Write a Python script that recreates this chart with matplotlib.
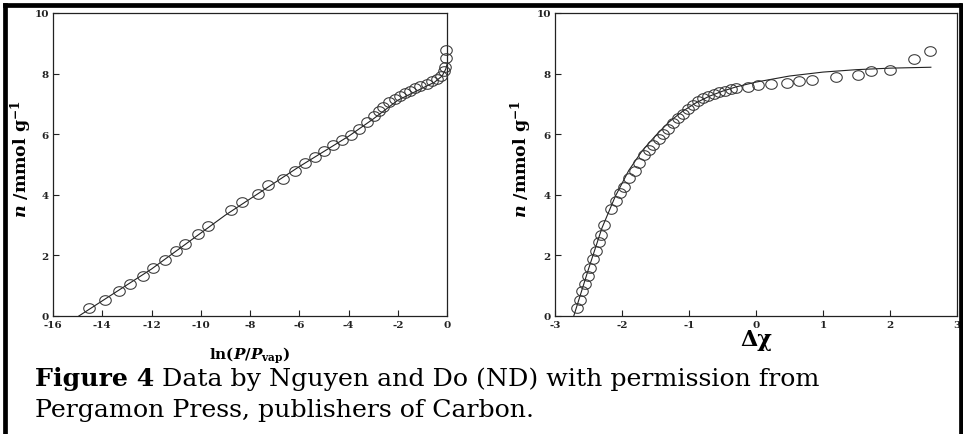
import matplotlib
matplotlib.use("Agg")
import matplotlib.pyplot as plt
from matplotlib.lines import Line2D
from matplotlib.path import Path
import numpy as np

plt.rcParams['font.family'] = ['DejaVu Serif', 'Liberation Serif']
plt.rcParams['mathtext.fontset'] = 'custom'
plt.rcParams['mathtext.rm'] = 'DejaVu Serif:bold'
plt.rcParams['mathtext.it'] = 'DejaVu Serif:bold:italic'
plt.rcParams['mathtext.bf'] = 'DejaVu Serif:bold'

# ---- Left panel data: n vs ln(P/Pvap) ----
left_x = [-14.55, -13.90, -13.33, -12.88, -12.34, -11.93, -11.46, -11.01, -10.64, -10.10,
          -9.69, -8.77, -8.31, -7.66, -7.25, -6.64, -6.17, -5.75, -5.36, -4.98,
          -4.61, -4.27, -3.91, -3.59, -3.25, -2.98, -2.78, -2.58, -2.37, -2.10,
          -1.90, -1.69, -1.49, -1.29, -1.08, -0.81, -0.61, -0.41, -0.24, -0.14,
          -0.07, -0.04, -0.04]
left_y = [0.25, 0.52, 0.81, 1.07, 1.32, 1.58, 1.84, 2.14, 2.38, 2.69,
          2.96, 3.51, 3.76, 4.03, 4.31, 4.53, 4.80, 5.04, 5.24, 5.44,
          5.63, 5.81, 5.98, 6.18, 6.40, 6.59, 6.75, 6.91, 7.05, 7.16,
          7.25, 7.35, 7.44, 7.52, 7.58, 7.66, 7.74, 7.82, 7.93, 8.07,
          8.21, 8.51, 8.79]
left_fit_x = [-14.95, -12.0, -9.0, -6.0, -4.0, -3.0, -2.0, -1.0, -0.5, -0.2, -0.05, 0.0]
left_fit_y = [0.0, 1.55, 3.33, 4.93, 5.93, 6.50, 7.12, 7.52, 7.72, 7.92, 8.15, 8.30]

# ---- Right panel data: n vs delta chi ----
right_x = [-2.67, -2.63, -2.59, -2.55, -2.51, -2.48, -2.44, -2.39, -2.35, -2.32,
           -2.27, -2.17, -2.09, -2.03, -1.97, -1.89, -1.81, -1.74, -1.67, -1.60,
           -1.53, -1.45, -1.39, -1.31, -1.24, -1.16, -1.09, -1.01, -0.94, -0.87,
           -0.79, -0.71, -0.63, -0.55, -0.47, -0.38, -0.30, -0.12, 0.03, 0.23,
           0.47, 0.64, 0.84, 1.19, 1.52, 1.71, 2.00, 2.36, 2.60]
right_y = [0.27, 0.54, 0.82, 1.07, 1.32, 1.58, 1.87, 2.14, 2.44, 2.68,
           2.99, 3.52, 3.78, 4.05, 4.27, 4.56, 4.80, 5.04, 5.30, 5.48,
           5.66, 5.85, 6.01, 6.18, 6.36, 6.53, 6.67, 6.84, 6.97, 7.09,
           7.20, 7.27, 7.33, 7.38, 7.44, 7.49, 7.53, 7.57, 7.63, 7.66,
           7.69, 7.76, 7.79, 7.90, 7.96, 8.07, 8.13, 8.48, 8.76]
right_fit_x = [-2.72, -2.5, -2.3, -2.1, -1.9, -1.7, -1.5, -1.3, -1.1, -0.9, -0.7,
               -0.5, -0.3, 0.0, 0.5, 1.0, 1.5, 2.0, 2.61]
right_fit_y = [0.0, 1.55, 2.9, 3.95, 4.8, 5.45, 5.95, 6.4, 6.75, 7.03, 7.25,
               7.42, 7.56, 7.72, 7.92, 8.05, 8.13, 8.18, 8.21]

left_xticks = [-16, -14, -12, -10, -8, -6, -4, -2, 0]
right_xticks = [-3, -2, -1, 0, 1, 2, 3]
yticks = [0, 2, 4, 6, 8, 10]

W, H = 963, 435
fig = plt.figure(figsize=(W / 100, H / 100), dpi=100)
fig.patch.set_facecolor('white')

def px_axes(x0, y0, x1, y1):
    return fig.add_axes([x0 / W, 1 - y1 / H, (x1 - x0) / W, (y1 - y0) / H])

ax1 = px_axes(53, 14, 447, 317)
ax2 = px_axes(555, 14, 957, 317)

# slightly wide open ellipse marker (the scan is stretched horizontally)
_t = np.linspace(0, 2 * np.pi, 41)
ellipse_marker = Path(np.column_stack([1.2 * np.cos(_t), np.sin(_t)]), closed=True)

def style(ax, xlim, xticks):
    ax.set_xlim(*xlim)
    ax.set_ylim(0, 10)
    ax.set_xticks(xticks)
    ax.set_yticks(yticks)
    ax.set_xticklabels([str(t) for t in xticks])
    ax.set_yticklabels([str(t) for t in yticks])
    for s in ax.spines.values():
        s.set_linewidth(0.9)
        s.set_color('#222222')
    ax.tick_params(direction='in', length=4, width=0.8, colors='#222222',
                   labelsize=7.5, pad=3, top=False, right=False)
    for lab in ax.get_xticklabels() + ax.get_yticklabels():
        lab.set_fontweight('bold')
        lab.set_color('#222222')

style(ax1, (-16, 0), left_xticks)
style(ax2, (-3, 3), right_xticks)

for ax, fx, fy, px, py in [(ax1, left_fit_x, left_fit_y, left_x, left_y),
                           (ax2, right_fit_x, right_fit_y, right_x, right_y)]:
    ax.plot(fx, fy, color='#222222', lw=0.8, zorder=2)
    ax.plot(px, py, linestyle='none', marker=ellipse_marker, markersize=8.3,
            markerfacecolor='none', markeredgecolor='#333333', markeredgewidth=0.75,
            zorder=3, clip_on=False)

ylab = r'$n$ /mmol g$^{\mathbf{-1}}$'
ax1.set_ylabel(ylab, fontsize=12.5, fontweight='bold')
ax2.set_ylabel(ylab, fontsize=12.5, fontweight='bold')
ax1.yaxis.set_label_coords(-19 / 394, 0.52)
ax2.yaxis.set_label_coords(-21 / 402, 0.52)
ax1.set_xlabel(r'ln($P$/$P_{\mathrm{vap}}$)', fontsize=11, fontweight='bold', labelpad=11)
ax2.set_xlabel('Δχ', fontsize=16, fontweight='bold', labelpad=-1)

# outer frame
fig.add_artist(Line2D([5 / W, 5 / W], [0, 1 - 6 / H], transform=fig.transFigure,
                      color='black', lw=3.4, solid_capstyle='projecting'))
fig.add_artist(Line2D([5 / W, 959 / W], [1 - 6 / H, 1 - 6 / H], transform=fig.transFigure,
                      color='black', lw=3.4, solid_capstyle='projecting'))
fig.add_artist(Line2D([960.5 / W, 960.5 / W], [0, 1 - 6 / H], transform=fig.transFigure,
                      color='black', lw=3.4, solid_capstyle='projecting'))

# caption
fs = 18.2
x0 = 35 / W
t1 = fig.text(x0, 1 - 386 / H, 'Figure 4', fontsize=fs, fontweight='bold',
              ha='left', va='baseline')
fig.canvas.draw()
bb = t1.get_window_extent(renderer=fig.canvas.get_renderer())
fig.text((bb.x1) / W, 1 - 386 / H, ' Data by Nguyen and Do (ND) with permission from',
         fontsize=fs, ha='left', va='baseline')
fig.text(x0, 1 - 417 / H, 'Pergamon Press, publishers of Carbon.',
         fontsize=fs, ha='left', va='baseline')

fig.savefig('out.png', dpi=100, facecolor='white')
